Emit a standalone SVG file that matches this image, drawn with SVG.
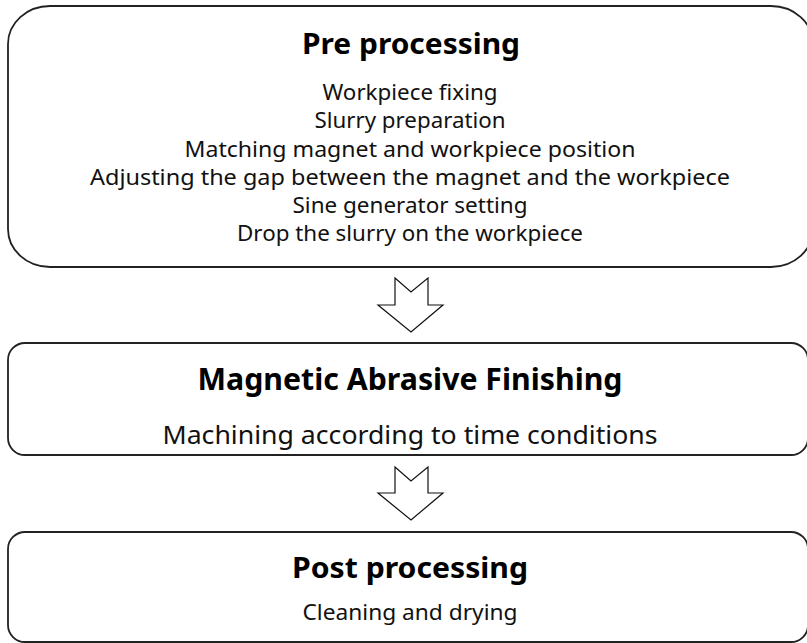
<svg xmlns="http://www.w3.org/2000/svg" width="807" height="643" viewBox="0 0 807 643">
  <style>
    .box { fill: #ffffff; stroke: #222222; stroke-width: 1.8; }
    .step { fill: #ffffff; stroke: #111111; stroke-width: 1.2; stroke-linejoin: miter; }
    .title { font-family: "Noto Sans", "Open Sans", sans-serif; font-weight: bold; fill: #000000; text-anchor: middle; }
    .body { font-family: "Noto Sans", "Open Sans", sans-serif; fill: #111111; text-anchor: middle; }
  </style>
  <rect width="807" height="643" fill="#ffffff"/>

  <g id="pre-processing">
    <rect class="box" x="8" y="6" width="805" height="261" rx="42" ry="38"/>
    <text class="title" x="411" y="54" font-size="28" textLength="218" lengthAdjust="spacingAndGlyphs">Pre processing</text>
    <text class="body" x="410" y="100" font-size="22.5" textLength="175" lengthAdjust="spacingAndGlyphs">Workpiece fixing</text>
    <text class="body" x="410" y="128" font-size="22.5" textLength="191" lengthAdjust="spacingAndGlyphs">Slurry preparation</text>
    <text class="body" x="410" y="157" font-size="22.5" textLength="451" lengthAdjust="spacingAndGlyphs">Matching magnet and workpiece position</text>
    <text class="body" x="410" y="185" font-size="22.5" textLength="640" lengthAdjust="spacingAndGlyphs">Adjusting the gap between the magnet and the workpiece</text>
    <text class="body" x="410" y="213" font-size="22.5" textLength="235" lengthAdjust="spacingAndGlyphs">Sine generator setting</text>
    <text class="body" x="410" y="241" font-size="22.5" textLength="346" lengthAdjust="spacingAndGlyphs">Drop the slurry on the workpiece</text>
  </g>

  <g id="magnetic-abrasive-finishing">
    <rect class="box" x="8" y="343" width="800" height="112" rx="17" ry="17"/>
    <text class="title" x="410" y="390" font-size="30" textLength="425" lengthAdjust="spacingAndGlyphs">Magnetic Abrasive Finishing</text>
    <text class="body" x="410" y="444" font-size="24.5" textLength="495" lengthAdjust="spacingAndGlyphs">Machining according to time conditions</text>
  </g>

  <g id="post-processing">
    <rect class="box" x="8" y="532" width="800" height="110" rx="17" ry="17"/>
    <text class="title" x="410" y="578" font-size="29" textLength="236" lengthAdjust="spacingAndGlyphs">Post processing</text>
    <text class="body" x="410" y="620" font-size="22.5" textLength="215" lengthAdjust="spacingAndGlyphs">Cleaning and drying</text>
  </g>

  <g id="connectors">
    <polygon class="step" points="395,278 411,292 428,278 428,305 443,305 411,332 378,305 395,305"/>
    <polygon class="step" points="395,467 411,481 428,467 428,493 443,493 411,520 378,493 395,493"/>
  </g>
</svg>
